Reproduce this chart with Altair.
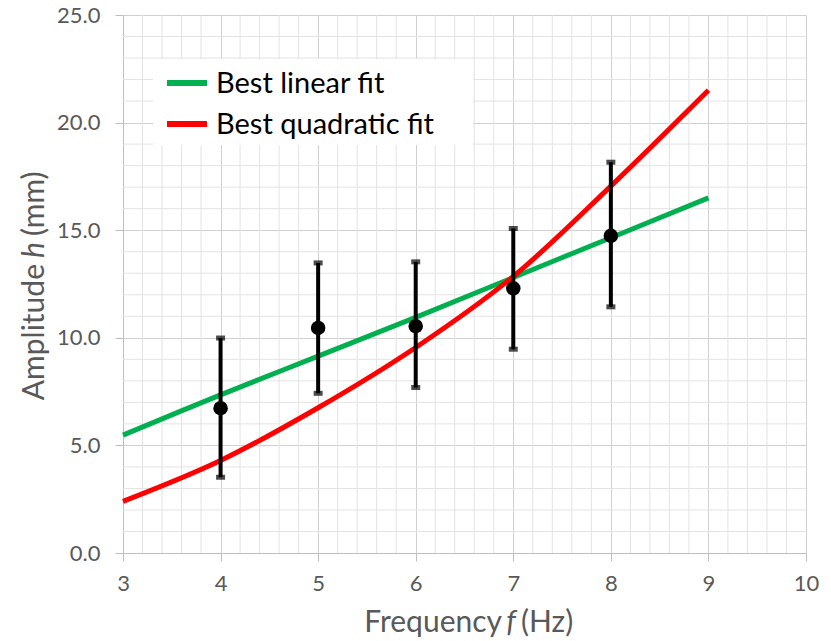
import altair as alt
import pandas as pd

# ---- data ----
freq = [4, 5, 6, 7, 8]
amp = [6.73, 10.46, 10.54, 12.3, 14.74]
amp_lo = [3.52, 7.42, 7.69, 9.47, 11.44]
amp_hi = [9.99, 13.48, 13.53, 15.08, 18.16]

fit_x = [3, 4, 5, 6, 7, 8, 9]
linear_fit = [5.48, 7.35, 9.15, 10.95, 12.8, 14.65, 16.5]
quad_fit = [2.4, 4.3, 6.75, 9.55, 12.85, 17.05, 21.5]

series_names = ["Best linear fit", "Best quadratic fit"]
series_colors = ["#00B050", "#FF0000"]

x_ticks = [3, 4, 5, 6, 7, 8, 9, 10]
y_ticks = [0, 5, 10, 15, 20, 25]
x_minor = [round(3 + 0.2 * i, 1) for i in range(36) if i % 5 != 0]
y_minor = [v for v in range(26) if v % 5 != 0]

FONT = "Lato"
GREY = "#595959"

points = pd.DataFrame({"f": freq, "h": amp, "lo": amp_lo, "hi": amp_hi})
fits = pd.DataFrame({
    "f": fit_x * 2,
    "h": linear_fit + quad_fit,
    "series": [series_names[0]] * len(fit_x) + [series_names[1]] * len(fit_x),
})

xs = alt.Scale(domain=[3, 10], nice=False, zero=False)
ys = alt.Scale(domain=[0, 25], nice=False)
XA = alt.Axis(values=x_ticks, title=None, grid=True, format="d", labelFlush=False)
YA = alt.Axis(values=y_ticks, title=None, grid=True, format=".1f", labelFlush=False)

minor_x = alt.Chart(pd.DataFrame({"v": x_minor})).mark_rule(
    color="#e3e3e3", strokeWidth=1
).encode(x=alt.X("v:Q", scale=xs, axis=XA))

minor_y = alt.Chart(pd.DataFrame({"v": y_minor})).mark_rule(
    color="#e3e3e3", strokeWidth=1
).encode(y=alt.Y("v:Q", scale=ys, axis=YA))

lines = alt.Chart(fits).mark_line(strokeWidth=5, interpolate="catmull-rom").encode(
    x=alt.X("f:Q", scale=xs, axis=XA),
    y=alt.Y("h:Q", scale=ys, axis=YA),
    color=alt.Color("series:N", scale=alt.Scale(domain=series_names, range=series_colors), legend=None),
)

err = alt.Chart(points).mark_rule(color="black", strokeWidth=4).encode(
    x=alt.X("f:Q", scale=xs, axis=XA),
    y=alt.Y("lo:Q", scale=ys, axis=YA),
    y2="hi:Q",
)
cap_lo = alt.Chart(points).mark_tick(color="black", orient="horizontal", thickness=5, size=9).encode(
    x=alt.X("f:Q", scale=xs, axis=XA), y=alt.Y("lo:Q", scale=ys, axis=YA)
)
cap_hi = alt.Chart(points).mark_tick(color="black", orient="horizontal", thickness=5, size=9).encode(
    x=alt.X("f:Q", scale=xs, axis=XA), y=alt.Y("hi:Q", scale=ys, axis=YA)
)
dots = alt.Chart(points).mark_circle(color="black", opacity=1, size=210).encode(
    x=alt.X("f:Q", scale=xs, axis=XA), y=alt.Y("h:Q", scale=ys, axis=YA)
)

one = alt.Data(values=[{"k": 1}])
leg_box = alt.Chart(one).mark_rect(color="white").encode(
    x=alt.value(30), x2=alt.value(350), y=alt.value(44), y2=alt.value(130)
)
leg_g = alt.Chart(one).mark_rule(color=series_colors[0], strokeWidth=6).encode(
    x=alt.value(44), x2=alt.value(84), y=alt.value(68)
)
leg_r = alt.Chart(one).mark_rule(color=series_colors[1], strokeWidth=6).encode(
    x=alt.value(44), x2=alt.value(84), y=alt.value(109)
)
leg_t1 = alt.Chart(one).mark_text(
    text=series_names[0], font=FONT, fontSize=29, color="black", align="left", baseline="middle"
).encode(x=alt.value(93), y=alt.value(69))
leg_t2 = alt.Chart(one).mark_text(
    text=series_names[1], font=FONT, fontSize=29, color="black", align="left", baseline="middle"
).encode(x=alt.value(93), y=alt.value(110))

# axis titles (with italic symbols)
def tx(text, x, y, align, italic=False, angle=0):
    kw = dict(text=text, font=FONT, fontSize=30, color=GREY, align=align, baseline="middle")
    if italic:
        kw["fontStyle"] = "italic"
    if angle:
        kw["angle"] = angle
    return alt.Chart(one).mark_text(**kw).encode(x=alt.value(x), y=alt.value(y))

xt1 = tx("Frequency", 379, 608, "right")
xt2 = tx("f", 388, 608, "center", italic=True)
xt3 = tx("(Hz)", 398, 608, "left")
yt1 = tx("Amplitude", -88, 249, "right", angle=270)
yt2 = tx("h", -88, 235, "center", italic=True, angle=270)
yt3 = tx("(mm)", -88, 221, "left", angle=270)

chart = alt.layer(
    minor_x, minor_y, lines, err, cap_lo, cap_hi, dots,
    leg_box, leg_g, leg_r, leg_t1, leg_t2,
    xt1, xt2, xt3, yt1, yt2, yt3,
).properties(
    width=683, height=538,
    padding={"left": 123, "top": 15, "right": 25, "bottom": 88},
    autosize=alt.AutoSizeParams(type="none"),
    background="white",
).configure_view(stroke=None).configure_axis(
    gridColor="#d0d0d0", gridWidth=1,
    domainColor="#bfbfbf", tickColor="#bfbfbf", tickSize=8,
    labelFont=FONT, labelFontSize=22, labelColor=GREY,
).configure_axisX(labelPadding=12).configure_axisY(labelPadding=15)

chart.save("out.html", embed_options={"renderer": "svg", "actions": False})
